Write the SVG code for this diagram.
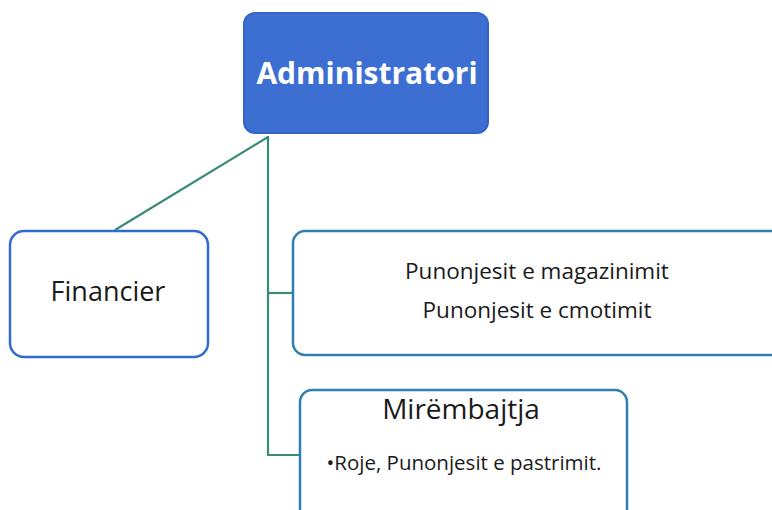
<svg xmlns="http://www.w3.org/2000/svg" width="772" height="510" viewBox="0 0 772 510">
<style>
.box{fill:#ffffff;stroke:#2f6ccf;stroke-width:2.5}
.conn{fill:none;stroke:#3a8a78;stroke-width:2.2}
.t{font-family:"Open Sans","Noto Sans","DejaVu Sans",sans-serif;fill:#1a1a1a;text-anchor:middle}
</style>
<rect width="772" height="510" fill="#ffffff"/>
<g id="connectors">
<path class="conn" d="M115,230 L268,137"/>
<path class="conn" d="M268,136 L268,455 L300,455"/>
<path class="conn" d="M268,293 L293,293"/>
</g>
<g id="admin">
<rect x="244" y="13" width="244" height="120" rx="11" fill="#3d6fd2" stroke="#3365c8" stroke-width="2"/>
<text x="367" y="84" class="t" style="fill:#ffffff;font-weight:bold;font-size:30px">Administratori</text>
</g>
<g id="financier">
<rect class="box" x="10" y="231" width="198" height="126" rx="14"/>
<text x="108" y="301" class="t" style="font-size:27px">Financier</text>
</g>
<g id="punonjesit">
<rect class="box" x="293" y="231" width="500" height="124" rx="12" style="stroke:#2f7fb0"/>
<text x="537" y="279" class="t" style="font-size:22.5px">Punonjesit e magazinimit</text>
<text x="537" y="318" class="t" style="font-size:22.5px">Punonjesit e cmotimit</text>
</g>
<g id="mirembajtja">
<rect class="box" x="300" y="390" width="327" height="140" rx="12" style="stroke:#2f7fb0"/>
<text x="461" y="419" class="t" style="font-size:28px">Mirëmbajtja</text>
<text x="464" y="470" class="t" style="font-size:20.5px">•Roje, Punonjesit e pastrimit.</text>
</g>
</svg>
